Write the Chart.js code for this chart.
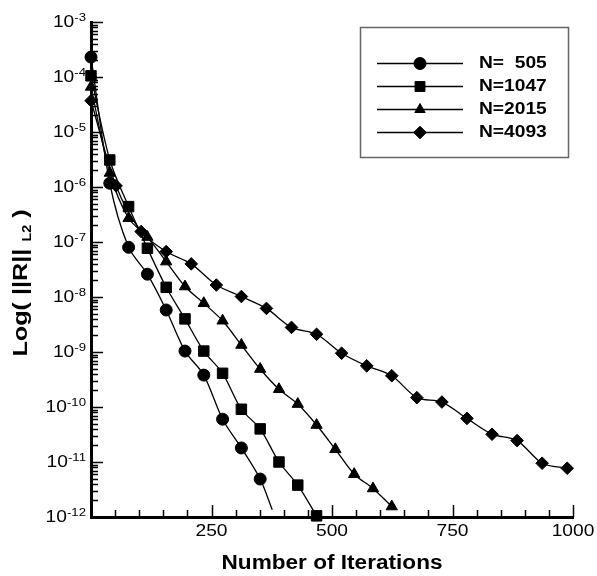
<!DOCTYPE html>
<html>
<head>
<meta charset="utf-8">
<script src="https://cdn.jsdelivr.net/npm/chart.js@4.4.0/dist/chart.umd.min.js"></script>
<style>
  html, body { margin: 0; padding: 0; background: #fff; }
  #wrap { position: relative; width: 597px; height: 576px; }
</style>
</head>
<body>
<div id="wrap"><canvas id="resChart" width="597" height="576"></canvas></div>
<script>
// residual history (iterations vs ||R||_L2)
const iter505 = [0, 39, 78, 117, 156, 195, 234, 273, 312, 351, 376];
const res505 = [2.3e-4, 1.17e-6, 8.0e-8, 2.6e-8, 5.8e-9, 1.04e-9, 3.8e-10, 6.0e-11, 1.8e-11, 4.9e-12, 1.35e-12];

const iter1047 = [0, 39, 78, 117, 156, 195, 234, 273, 312, 351, 390, 429, 468];
const res1047 = [1.05e-4, 3.1e-6, 4.4e-7, 7.7e-8, 1.5e-8, 4.0e-9, 1.04e-9, 4.1e-10, 9.1e-11, 4.0e-11, 1.0e-11, 3.8e-12, 1.05e-12];

const iter2015 = [0, 39, 78, 117, 156, 195, 234, 273, 312, 351, 390, 429, 468, 507, 546, 585, 624];
const res2015 = [6.6e-5, 1.8e-6, 2.7e-7, 1.23e-7, 4.4e-8, 1.55e-8, 7.7e-9, 3.7e-9, 1.34e-9, 4.9e-10, 2.1e-10, 1.13e-10, 4.7e-11, 1.7e-11, 6.0e-12, 3.3e-12, 1.55e-12];

const iter4093 = [0, 52, 104, 156, 208, 260, 312, 364, 416, 468, 520, 572, 624, 676, 728, 780, 832, 884, 936, 988];
const res4093 = [3.7e-5, 1.05e-6, 1.55e-7, 6.7e-8, 4.0e-8, 1.65e-8, 1.02e-8, 6.2e-9, 2.8e-9, 2.1e-9, 9.5e-10, 5.6e-10, 3.7e-10, 1.48e-10, 1.23e-10, 6.2e-11, 3.2e-11, 2.45e-11, 9.5e-12, 7.7e-12];

const seriesLabels = ['N=  505', 'N=1047', 'N=2015', 'N=4093'];
const xTickLabels = [250, 500, 750, 1000];
const xMinorStep = 50;
const yExponents = [-3, -4, -5, -6, -7, -8, -9, -10, -11, -12];

const FONT = '"Liberation Sans", Arial, Helvetica, sans-serif';
const SX = 1.2; // the original text is a bit wide

function toXY(xs, ys) {
  return xs.map((x, i) => ({ x: x, y: ys[i] }));
}

// draw text squeezed/stretched horizontally
function wideText(ctx, s, x, y, font, align, sx) {
  ctx.save();
  ctx.font = font;
  ctx.textBaseline = 'middle';
  ctx.textAlign = 'left';
  const w = ctx.measureText(s).width * sx;
  const x0 = align === 'center' ? x - w / 2 : (align === 'right' ? x - w : x);
  ctx.translate(x0, y);
  ctx.scale(sx, 1);
  ctx.fillText(s, 0, 0);
  ctx.restore();
  return w;
}

const axisDecor = {
  id: 'axisDecor',
  afterDraw(chart) {
    const ctx = chart.ctx;
    const xs = chart.scales.x;
    const ys = chart.scales.y;
    const area = chart.chartArea;
    ctx.save();
    ctx.strokeStyle = '#000';
    ctx.fillStyle = '#000';

    // inward ticks on y
    ctx.lineWidth = 1.5;
    ctx.beginPath();
    yExponents.forEach(e => {
      const yy = Math.round(ys.getPixelForValue(Math.pow(10, e))) + 0.5;
      ctx.moveTo(area.left, yy);
      ctx.lineTo(area.left + 12, yy);
      for (let k = 2; k <= 9 && e < -3; k++) {
        const v = k * Math.pow(10, e);
        const py = Math.round(ys.getPixelForValue(v)) + 0.5;
        ctx.moveTo(area.left, py);
        ctx.lineTo(area.left + 7, py);
      }
    });
    // inward ticks on x
    for (let v = xMinorStep; v <= xs.max; v += xMinorStep) {
      const px = Math.round(xs.getPixelForValue(v)) + 0.5;
      const len = (v % 250 === 0) ? 12 : 7;
      ctx.moveTo(px, area.bottom);
      ctx.lineTo(px, area.bottom - len);
    }
    ctx.stroke();

    // y tick labels 10^n
    yExponents.forEach(e => {
      const yy = ys.getPixelForValue(Math.pow(10, e));
      const ew = wideText(ctx, String(e), 86, yy - 4, '11px ' + FONT, 'right', SX);
      wideText(ctx, '10', 86 - ew, yy + 0.5, '16px ' + FONT, 'right', SX);
    });

    // x tick labels
    xTickLabels.forEach(v => {
      wideText(ctx, String(v), xs.getPixelForValue(v), 532, '16px ' + FONT, 'center', SX);
    });

    // x title
    wideText(ctx, 'Number of Iterations', (area.left + area.right) / 2, 563, 'bold 20px ' + FONT, 'center', 1.13);

    // y title, rotated, with subscript L2
    ctx.save();
    ctx.translate(21, 283);
    ctx.rotate(-Math.PI / 2);
    const fMain = 'bold 21px ' + FONT;
    const fSub = 'bold 12px ' + FONT;
    ctx.font = fMain;
    const w1 = ctx.measureText('Log( ||R|| ').width * SX;
    const w3 = ctx.measureText(' )').width * SX;
    ctx.font = fSub;
    const w2 = ctx.measureText('L2').width * SX;
    let cx = -(w1 + w2 + w3) / 2;
    wideText(ctx, 'Log( ||R|| ', cx, 0, fMain, 'left', SX);
    cx += w1;
    wideText(ctx, 'L2', cx, 7, fSub, 'left', SX);
    cx += w2;
    wideText(ctx, ' )', cx, 0, fMain, 'left', SX);
    ctx.restore();

    // legend box
    const lx = area.right - 213;
    const ly = area.top + 5;
    ctx.lineWidth = 1.5;
    ctx.strokeStyle = '#666';
    ctx.strokeRect(lx + 0.5, ly + 0.5, 208, 130);
    const rows = [35.5, 59, 81.5, 104.5];
    chart.data.datasets.forEach((ds, i) => {
      const ry = Math.round(ly + rows[i]) + 0.5;
      ctx.strokeStyle = '#000';
      ctx.lineWidth = 1.3;
      ctx.beginPath();
      ctx.moveTo(lx + 17, ry);
      ctx.lineTo(lx + 103, ry);
      ctx.stroke();
      ctx.fillStyle = '#000';
      ctx.lineWidth = 1;
      Chart.helpers.drawPoint(ctx, {
        pointStyle: ds.pointStyle,
        radius: ds.legendRadius,
        rotation: 0,
        borderWidth: 1
      }, lx + 60, ry);
      wideText(ctx, seriesLabels[i], lx + 119, ry + 0.5, 'bold 16px ' + FONT, 'left', SX);
    });
    ctx.restore();
  }
};

function series(label, xs, ys, style, radius, legendRadius) {
  return {
    label: label,
    data: toXY(xs, ys),
    borderColor: '#000',
    backgroundColor: '#000',
    borderWidth: 1.3,
    pointStyle: style,
    pointRadius: radius,
    pointBackgroundColor: '#000',
    pointBorderColor: '#000',
    pointBorderWidth: 1,
    tension: 0.3,
    clip: false,
    legendRadius: legendRadius
  };
}

const last505 = iter505.length - 1;

new Chart(document.getElementById('resChart'), {
  type: 'line',
  data: {
    datasets: [
      series(seriesLabels[0], iter505, res505, 'circle', c => (c.dataIndex === last505 ? 0 : 6), 6),
      series(seriesLabels[1], iter1047, res1047, 'rect', 7.4, 7),
      series(seriesLabels[2], iter2015, res2015, 'triangle', 6.5, 6),
      series(seriesLabels[3], iter4093, res4093, 'rectRot', 6.3, 6.3)
    ]
  },
  options: {
    responsive: false,
    animation: false,
    layout: { padding: { left: 91, right: 24, top: 22, bottom: 59 } },
    plugins: {
      legend: { display: false },
      tooltip: { enabled: false }
    },
    scales: {
      x: {
        type: 'linear',
        min: 0,
        max: 1000,
        ticks: { display: false },
        grid: { display: false, drawTicks: false },
        border: { display: true, width: 3, color: '#000' },
        afterFit: s => { s.height = 0; }
      },
      y: {
        type: 'logarithmic',
        min: 1e-12,
        max: 1e-3,
        ticks: { display: false },
        grid: { display: false, drawTicks: false },
        border: { display: true, width: 3, color: '#000' },
        afterFit: s => { s.width = 0; }
      }
    }
  },
  plugins: [axisDecor]
});
</script>
</body>
</html>
